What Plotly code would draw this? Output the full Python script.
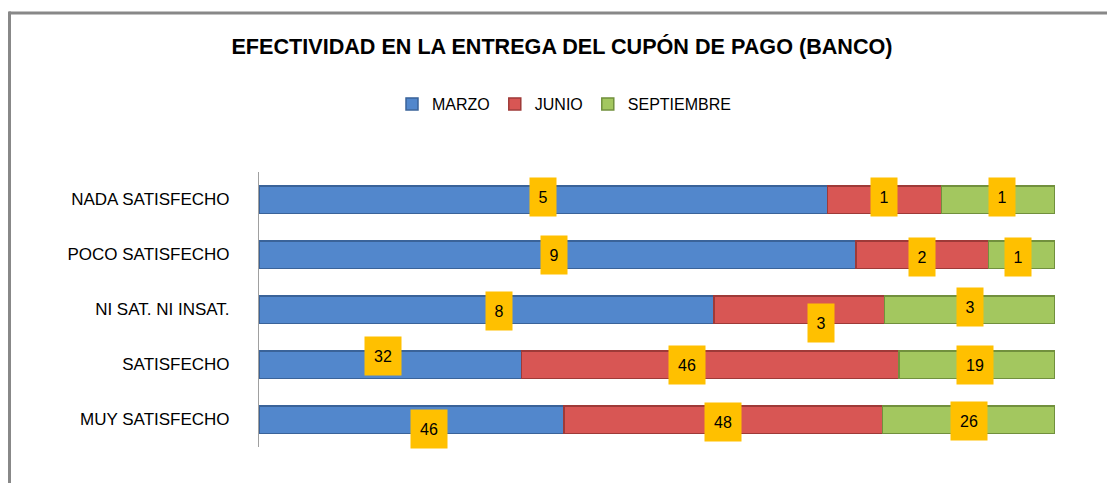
import plotly.graph_objects as go

categories = ["NADA SATISFECHO", "POCO SATISFECHO", "NI SAT. NI INSAT.", "SATISFECHO", "MUY SATISFECHO"]
series_names = ["MARZO", "JUNIO", "SEPTIEMBRE"]
marzo = [5, 9, 8, 32, 46]
junio = [1, 2, 3, 46, 48]
septiembre = [1, 1, 3, 19, 26]
title_text = "EFECTIVIDAD EN LA ENTREGA DEL CUPÓN DE PAGO (BANCO)"

colors = ["#5287CC", "#D85654", "#A3C75F"]
edge_colors = ["#3A6399", "#9E3A38", "#71903D"]
# label nudges in screen pixels (style only): dx right-positive, dy down-positive
label_dx = [[0, -4, 13, -7, 17], [0, 0, 22, -23, 0], [4, -4, 0, -2, 0]]
label_dy = [[-3, 0, 1, -9, 9], [-3, 2, 13, 0, 2], [-3, 2, -3, 0, 1]]

FONT = "Liberation Sans Narrow, Arial Narrow, Liberation Sans, sans-serif"

# the page body adds an offset; the layout compensates for it
PLOT_W, PLOT_H = 796, 275
ML, MT = 251, 164

series = [marzo, junio, septiembre]
fig = go.Figure()
for name, vals, c, ec in zip(series_names, series, colors, edge_colors):
    fig.add_trace(go.Bar(
        y=categories, x=vals, name=name, orientation="h",
        marker=dict(color=c, line=dict(color=ec, width=1.5)),
        hoverinfo="x+y+name",
    ))

totals = [sum(s[i] for s in series) for i in range(len(categories))]
annotations = []
for i, cat in enumerate(categories):
    cum = 0.0
    for si, s in enumerate(series):
        pct = s[i] / totals[i] * 100
        mid = cum + pct / 2
        cum += pct
        txt = str(s[i])
        annotations.append(dict(
            x=mid, y=cat, xref="x", yref="y", text=txt, showarrow=False,
            bgcolor="#FFC000", width=14 + 10 * len(txt), height=36,
            font=dict(family="Liberation Sans, Arial, sans-serif", size=16, color="#000000"),
            xshift=label_dx[si][i], yshift=-label_dy[si][i],
        ))

fig.update_layout(
    width=1115, height=483,
    barmode="stack", barnorm="percent", bargap=0.5,
    paper_bgcolor="white", plot_bgcolor="white",
    margin=dict(l=ML, r=1115 - ML - PLOT_W, t=MT, b=483 - MT - PLOT_H, autoexpand=False),
    title=dict(text="<b>" + title_text + "</b>", x=(562 - 8) / 1115, xanchor="center",
               y=1 - 38 / 483, yanchor="middle",
               font=dict(family=FONT, size=21.6, color="#000000")),
    legend=dict(orientation="h", x=(564 - 8 - ML) / PLOT_W, xanchor="center",
                y=1.0 + (MT - 96) / PLOT_H, yanchor="middle",
                font=dict(family=FONT, size=16, color="#000000"),
                traceorder="normal"),
    xaxis=dict(range=[0, 100], visible=False, fixedrange=True),
    yaxis=dict(autorange="reversed", showgrid=False, showline=True, linecolor="#A0A0A0", linewidth=1,
               ticks="", ticklabelstandoff=25,
               tickfont=dict(family=FONT, size=17, color="#000000")),
    annotations=annotations,
    shapes=[
        dict(type="line", xref="paper", yref="paper", x0=-(ML - 1) / PLOT_W, x1=1 + (1115 - ML - PLOT_W - 1) / PLOT_W,
             y0=1 + (MT - 5) / PLOT_H, y1=1 + (MT - 5) / PLOT_H,
             line=dict(color="#888888", width=3)),
        dict(type="line", xref="paper", yref="paper", x0=-(ML - 1.5) / PLOT_W, x1=-(ML - 1.5) / PLOT_W,
             y0=-(483 - MT - PLOT_H) / PLOT_H, y1=1 + (MT - 3.5) / PLOT_H,
             line=dict(color="#888888", width=3)),
    ],
)

fig.write_html("out.html")
